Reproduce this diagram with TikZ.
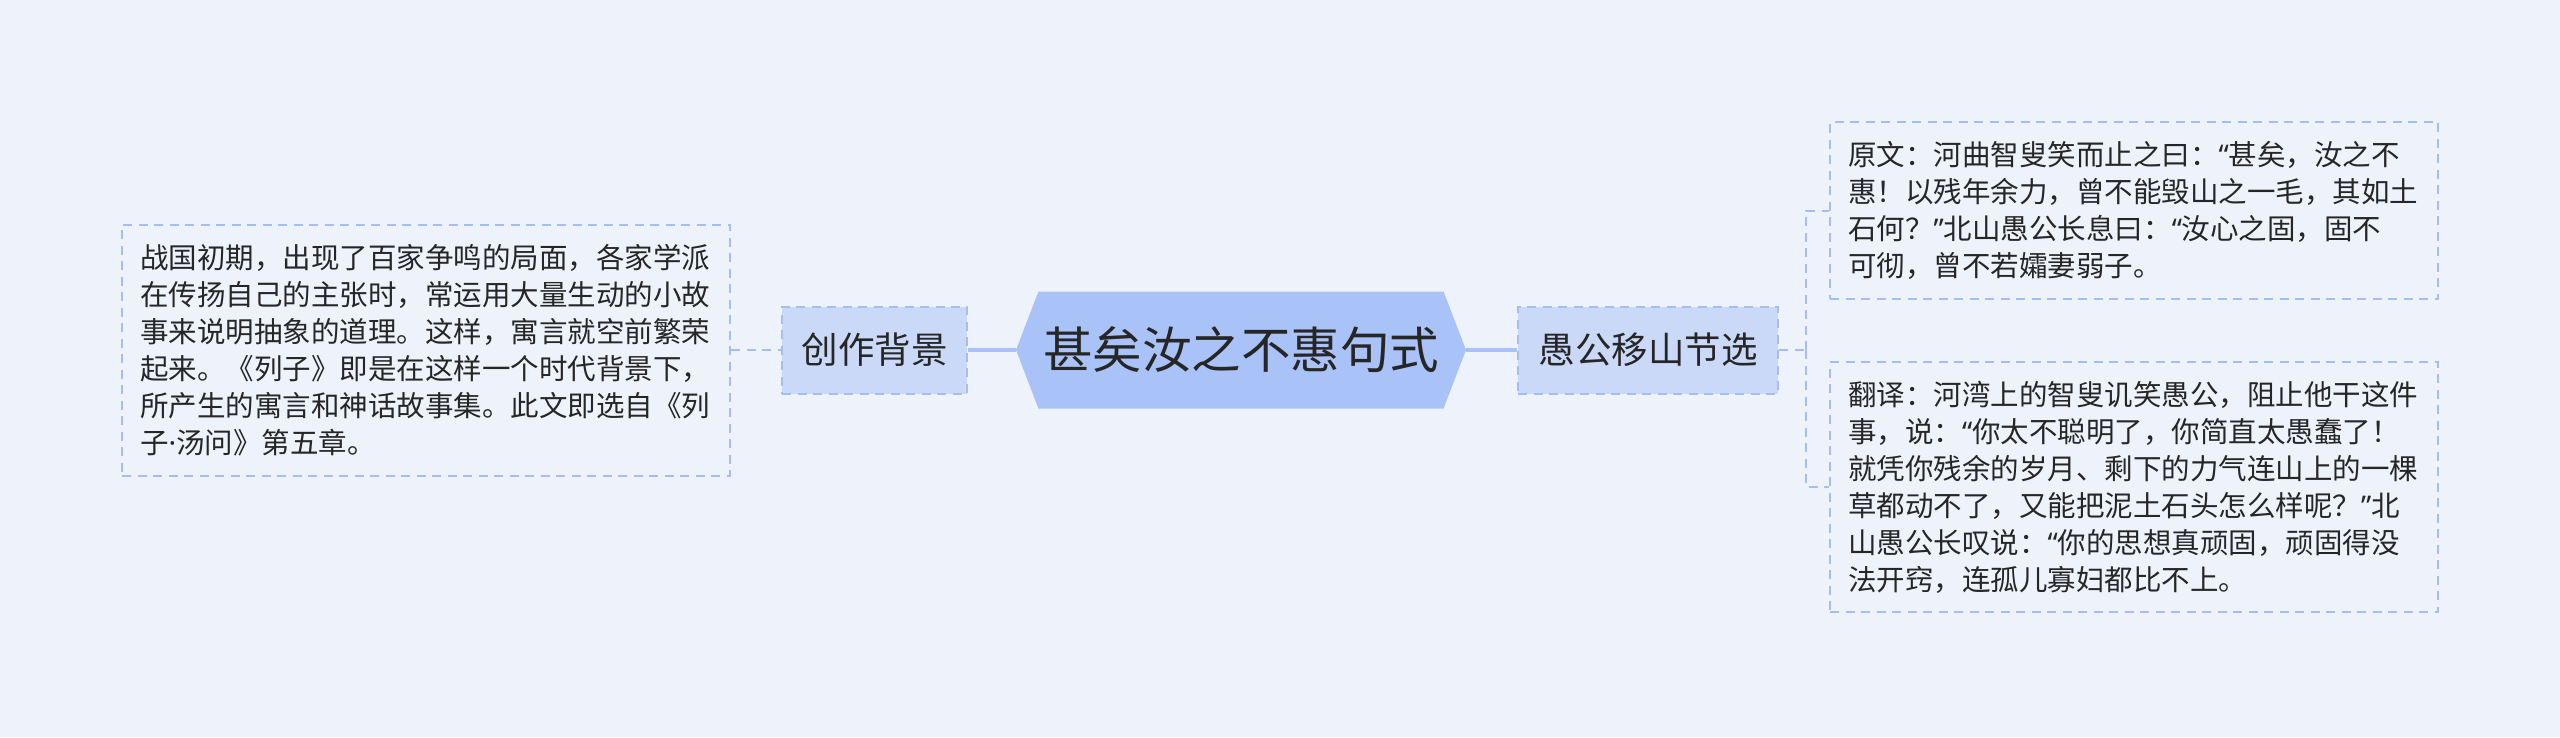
\documentclass[tikz,border=0pt]{standalone}
\usepackage{fontspec}
\setmainfont{Noto Sans CJK SC}
\newfontfamily\westfont{Noto Sans}
\usepackage{xcolor}
\usepackage{tikz}
\usetikzlibrary{positioning,shapes.symbols,calc}
\definecolor{bgcolor}{HTML}{EEF2FB}
\definecolor{rootcolor}{HTML}{A9C2F8}
\definecolor{branchcolor}{HTML}{CBD9F9}
\definecolor{edgecolor}{HTML}{A6BDEF}
\definecolor{textcolor}{HTML}{262626}
% proportional quotes and dot
\newcommand\oquo{{\westfont “}}
\newcommand\cquo{{\westfont ”}}
\newcommand\mdot{{\westfont ·}}
\tikzset{
  mind root/.style={
    signal,
    signal to=west and east,
    signal pointer angle=138,
    fill=rootcolor,
    minimum width=450pt,
    minimum height=117pt,
    inner sep=0pt,
    text=textcolor,
    font=\fontsize{49.5}{54}\selectfont
  },
  mind branch/.style={
    rectangle,
    draw=edgecolor,
    fill=branchcolor,
    line width=2pt,
    dash pattern=on 9pt off 6.5pt,
    minimum height=87pt,
    inner xsep=19pt,
    text=textcolor,
    font=\fontsize{36.5}{40}\selectfont
  },
  mind leaf/.style={
    rectangle,
    draw=edgecolor,
    fill=bgcolor,
    line width=2pt,
    dash pattern=on 9pt off 6.5pt,
    text width=572pt,
    inner xsep=18pt,
    align=left,
    text=textcolor,
    font=\fontsize{28.5}{37}\selectfont
  },
  root link/.style={
    draw=rootcolor,
    line width=4pt
  },
  leaf link/.style={
    draw=edgecolor,
    line width=2pt,
    dash pattern=on 9pt off 6.5pt
  }
}

\begin{document}
\begin{tikzpicture}[x=1pt, y=-1pt]

  % Canvas
  \fill[bgcolor] (0,0) rectangle (2560,737);
  \useasboundingbox (0,0) rectangle (2560,737);

  % Root
  \node[mind root] (root) at (1241,350) {甚矣汝之不惠句式};

  % Branches
  \node[mind branch, minimum width=185pt] (bg) at (874.5,350) {创作背景};
  \node[mind branch, minimum width=260pt] (yg) at (1648,350) {愚公移山节选};

  % Leaves
  \node[mind leaf, minimum height=251pt] (bgtext) at (426,350) {战国初期，出现了百家争鸣的局面，各家学派\\在传扬自己的主张时，常运用大量生动的小故\\事来说明抽象的道理。这样，寓言就空前繁荣\\起来。《列子》即是在这样一个时代背景下，\\所产生的寓言和神话故事集。此文即选自《列\\子\mdot 汤问》第五章。};
  \node[mind leaf, minimum height=177pt] (yuanwen) at (2134,210.5) {原文：河曲智叟笑而止之曰：\oquo 甚矣，汝之不\\惠！以残年余力，曾不能毁山之一毛，其如土\\石何？\cquo 北山愚公长息曰：\oquo 汝心之固，固不\\可彻，曾不若孀妻弱子。};
  \node[mind leaf, minimum height=250pt] (yiwen) at (2134,487) {翻译：河湾上的智叟讥笑愚公，阻止他干这件\\事，说：\oquo 你太不聪明了，你简直太愚蠢了！\\就凭你残余的岁月、剩下的力气连山上的一棵\\草都动不了，又能把泥土石头怎么样呢？\cquo 北\\山愚公长叹说：\oquo 你的思想真顽固，顽固得没\\法开窍，连孤儿寡妇都比不上。};

  % Root to branches
  \draw[root link] (root.west) -- (bg.east);
  \draw[root link] (root.east) -- (yg.west);

  % Branches to leaves
  \draw[leaf link] (bgtext.east) -- (bg.west);
  \coordinate (fork) at ($(yg.east)+(27,0)$);
  \draw[leaf link] (yg.east) -- (fork);
  \draw[leaf link] (fork) |- (yuanwen.west);
  \draw[leaf link] (fork) |- (yiwen.west);

\end{tikzpicture}
\end{document}
